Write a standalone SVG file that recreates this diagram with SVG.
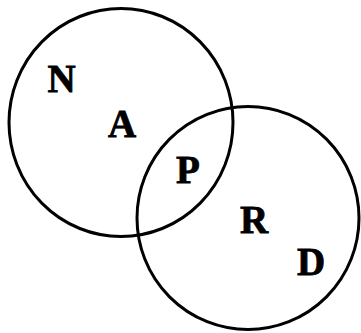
<svg xmlns="http://www.w3.org/2000/svg" width="361" height="333" viewBox="0 0 361 333">
<style>
.c{fill:none;stroke:#000;stroke-width:3}
.t{font-family:"Liberation Serif","DejaVu Serif",serif;font-weight:bold;font-size:39px;text-anchor:middle;fill:#000;stroke:#000;stroke-width:0.8}
</style>
<rect width="361" height="333" fill="#fff"/>
<g id="setA"><ellipse class="c" cx="121" cy="122.5" rx="112" ry="114"/></g>
<g id="setB"><ellipse class="c" cx="248" cy="218" rx="111" ry="111.5"/></g>
<g id="labels">
<text class="t" x="61.5" y="92">N</text>
<text class="t" x="122" y="137">A</text>
<text class="t" x="188" y="183">P</text>
<text class="t" x="254" y="233">R</text>
<text class="t" x="311" y="275">D</text>
</g>
</svg>
